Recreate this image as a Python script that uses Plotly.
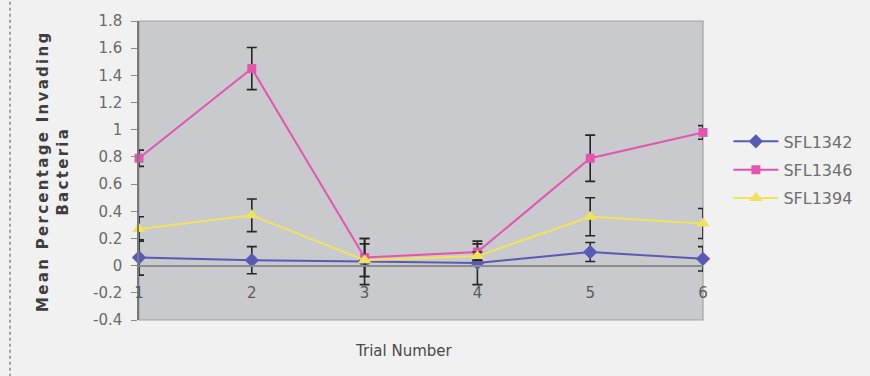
import plotly.graph_objects as go

# Trial numbers on the category axis
trials = [1, 2, 3, 4, 5, 6]
trial_labels = ["1", "2", "3", "4", "5", "6"]

# Mean percentage of invading bacteria per strain, with error bar half-lengths
sfl1342 = [0.06, 0.04, 0.03, 0.02, 0.10, 0.05]
sfl1342_err = [0.13, 0.10, 0.17, 0.16, 0.07, 0.09]

sfl1346 = [0.79, 1.45, 0.06, 0.10, 0.79, 0.98]
sfl1346_err = [0.06, 0.155, 0.14, 0.06, 0.17, 0.05]

sfl1394 = [0.27, 0.37, 0.04, 0.07, 0.36, 0.31]
sfl1394_err = [0.09, 0.12, 0.12, 0.03, 0.14, 0.11]

# Value axis ticks
y_ticks = [-0.4, -0.2, 0, 0.2, 0.4, 0.6, 0.8, 1.0, 1.2, 1.4, 1.6, 1.8]
y_tick_text = ["-0.4", "-0.2", "0", "0.2", "0.4", "0.6", "0.8", "1", "1.2", "1.4", "1.6", "1.8"]
Y_RANGE = [-0.4, 1.8]

FONT = "DejaVu Sans"
ERR_COLOR = "#262626"

series = [
    ("SFL1342", sfl1342, sfl1342_err, "#5a5ab6", "diamond", 11),
    ("SFL1346", sfl1346, sfl1346_err, "#e256b0", "square", 9),
    ("SFL1394", sfl1394, sfl1394_err, "#efe35c", "triangle-up", 12),
]

fig = go.Figure()
for i, (name, vals, errs, color, symbol, size) in enumerate(series):
    fig.add_trace(go.Scatter(
        x=trials, y=vals, name=name, mode="lines+markers",
        legendgroup=name,
        line=dict(color=color, width=2),
        marker=dict(symbol=symbol, size=size, color=color),
        error_y=dict(type="data", array=errs, visible=True,
                     color=ERR_COLOR, thickness=1.6, width=5),
        cliponaxis=False,
    ))

# category axis sits where the value axis crosses zero
zero_pos = (0 - Y_RANGE[0]) / (Y_RANGE[1] - Y_RANGE[0])

fig.update_layout(
    width=870, height=376, autosize=False,
    margin=dict(l=139, r=167, t=19, b=56),
    paper_bgcolor="#f1f1f1",
    plot_bgcolor="#c9cacd",
    showlegend=True,
    legend=dict(
        x=1.045, y=0.654, xanchor="left", yanchor="top",
        bgcolor="rgba(0,0,0,0)",
        font=dict(family=FONT, size=16, color="#6e6e6e"),
        tracegroupgap=4.5,
        itemwidth=45,
    ),
    xaxis=dict(
        range=[1, 6],
        tickvals=trials, ticktext=trial_labels,
        anchor="free", position=zero_pos,
        showgrid=False, zeroline=False,
        showline=True, linecolor="#8c8c8c", linewidth=1.5,
        ticks="", ticklabelstandoff=14,
        tickfont=dict(family=FONT, size=15, color="#5a5a5a"),
    ),
    yaxis=dict(
        range=Y_RANGE,
        tickvals=y_ticks, ticktext=y_tick_text,
        showgrid=False, zeroline=False,
        showline=True, linecolor="#7a7a7a", linewidth=1.5,
        ticks="outside", ticklen=6, tickcolor="#8a8a8a", tickwidth=1.2,
        ticklabelstandoff=6,
        tickfont=dict(family=FONT, size=15, color="#6a6a6a"),
    ),
    shapes=[
        # plot area frame
        dict(type="rect", xref="paper", yref="paper", x0=0, x1=1, y0=0, y1=1,
             line=dict(color="#a2a2a4", width=1.2), layer="below"),
        # page border on the left
        dict(type="line", xref="paper", yref="paper",
             x0=-0.2287, x1=-0.2287, y0=-0.19, y1=1.07,
             line=dict(color="#858585", width=1.5, dash="dot")),
    ],
    annotations=[
        dict(text="<span style='letter-spacing:2.3px'><b>Mean Percentage Invading<br>Bacteria</b></span>",
             xref="paper", yref="paper", x=-0.1515, y=0.497,
             xanchor="center", yanchor="middle", textangle=-90, showarrow=False,
             font=dict(family=FONT, size=15, color="#3e3e3e")),
        dict(text="Trial Number", xref="paper", yref="paper",
             x=(404 - 139) / 564, y=-0.105, xanchor="center", yanchor="middle",
             showarrow=False, font=dict(family=FONT, size=15, color="#4a4a4a")),
    ],
)

fig.write_html("out.html")
